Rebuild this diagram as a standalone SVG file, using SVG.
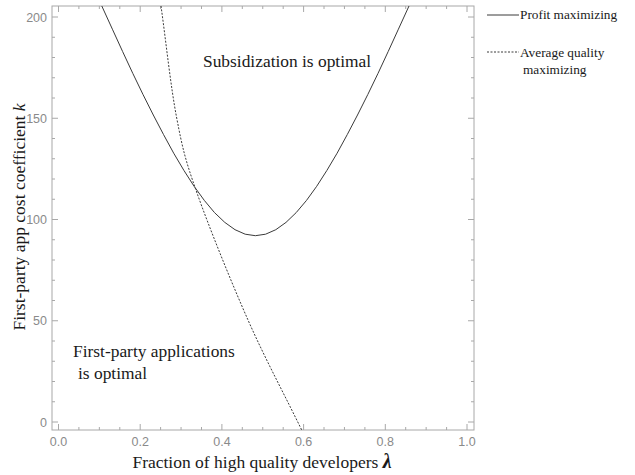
<svg xmlns="http://www.w3.org/2000/svg" width="635" height="475" viewBox="0 0 635 475">
<style>
.frame{fill:none;stroke:#a8a8a8;stroke-width:1}
.tick{fill:none;stroke:#a8a8a8;stroke-width:1}
.tl{font-family:"Liberation Sans",Arial,sans-serif;font-size:12.5px;fill:#8a8a8a}
.ax{font-family:"Liberation Serif","Times New Roman",serif;font-size:17.5px;fill:#1a1a1a}
.lab{font-family:"Liberation Serif","Times New Roman",serif;font-size:17.4px;fill:#1a1a1a}
.leg{font-family:"Liberation Serif","Times New Roman",serif;font-size:13.3px;fill:#1a1a1a}
.solid{fill:none;stroke:#3a3a3a;stroke-width:1}
.dash{fill:none;stroke:#3a3a3a;stroke-width:1;stroke-dasharray:2 1.5}
</style>
<defs><clipPath id="plot"><rect x="52" y="6" width="422" height="424"/></clipPath></defs>
<rect width="635" height="475" fill="#ffffff"/>
<g id="axes">
<rect class="frame" x="52" y="6" width="422" height="424"/>
<path class="tick" d="M58.5 430v-6M78.9 430v-3M99.35 430v-3M119.8 430v-3M140.2 430v-6M160.6 430v-3M181.05 430v-3M201.5 430v-3M221.9 430v-6M242.3 430v-3M262.75 430v-3M283.2 430v-3M303.6 430v-6M324 430v-3M344.45 430v-3M364.9 430v-3M385.3 430v-6M405.7 430v-3M426.15 430v-3M446.6 430v-3M467 430v-6
M58.5 6v6M78.9 6v3M99.35 6v3M119.8 6v3M140.2 6v6M160.6 6v3M181.05 6v3M201.5 6v3M221.9 6v6M242.3 6v3M262.75 6v3M283.2 6v3M303.6 6v6M324 6v3M344.45 6v3M364.9 6v3M385.3 6v6M405.7 6v3M426.15 6v3M446.6 6v3M467 6v6
M52 422h6M52 401.75h3M52 381.5h3M52 361.25h3M52 341h3M52 320.75h6M52 300.5h3M52 280.25h3M52 260h3M52 239.75h3M52 219.5h6M52 199.25h3M52 179h3M52 158.75h3M52 138.5h3M52 118.25h6M52 98h3M52 77.75h3M52 57.5h3M52 37.25h3M52 17h6
M474 422h-6M474 401.75h-3M474 381.5h-3M474 361.25h-3M474 341h-3M474 320.75h-6M474 300.5h-3M474 280.25h-3M474 260h-3M474 239.75h-3M474 219.5h-6M474 199.25h-3M474 179h-3M474 158.75h-3M474 138.5h-3M474 118.25h-6M474 98h-3M474 77.75h-3M474 57.5h-3M474 37.25h-3M474 17h-6"/>
<g class="tl" text-anchor="middle">
<text x="58.5" y="446">0.0</text><text x="140.2" y="446">0.2</text><text x="221.9" y="446">0.4</text><text x="303.6" y="446">0.6</text><text x="385.3" y="446">0.8</text><text x="467" y="446">1.0</text>
</g>
<g class="tl" text-anchor="end">
<text x="47" y="426.5">0</text><text x="47" y="325">50</text><text x="47" y="224">100</text><text x="47" y="122.5">150</text><text x="47" y="21.5">200</text>
</g>
<text class="ax" transform="translate(25 217) rotate(-90)" text-anchor="middle">First-party app cost coefficient <tspan font-style="italic">k</tspan></text>
<text class="ax" x="262" y="468" text-anchor="middle">Fraction of high quality developers  <tspan font-style="italic" font-weight="bold" font-size="20px">λ</tspan></text>
</g>
<g id="curves" clip-path="url(#plot)">
<path id="profit" class="solid" d="M101.8 6L112.4 29.2L122.6 51.5L132.8 73.4L143 94.5L153.3 115L163.5 134.5L173.7 153.2L183.9 170.4L194.1 186.3L204.3 200.4L214.5 212.6L224.8 222.4L235 229.7L245.2 234.2L255.4 235.7L265.6 234.2L275.8 229.7L286 222.4L296.2 212.6L306.5 200.4L316.7 186.3L326.9 170.4L337.1 153.2L347.3 134.5L357.5 115L367.8 94.5L378 73.4L388.2 51.5L398.4 29.2L409 6"/>
<path id="avgq" class="dash" d="M161 6C166.2 43.3 170.7 86.8 176.7 118C182.7 149.2 185.1 159.3 197 193C208.9 226.7 230.55 280.5 248 320C265.45 359.5 283.8 393.3 301.7 430"/>
</g>
<g id="region-labels">
<text class="lab" x="203" y="67">Subsidization is optimal</text>
<text class="lab" x="73" y="357">First-party applications</text>
<text class="lab" x="78" y="379">is optimal</text>
</g>
<g id="legend">
<line class="solid" x1="487" y1="15" x2="519" y2="15"/>
<text class="leg" x="520" y="19">Profit maximizing</text>
<line class="dash" x1="487" y1="52" x2="519" y2="52" stroke-dasharray="1.5 1.5"/>
<text class="leg" x="520" y="57">Average quality</text>
<text class="leg" x="523" y="74">maximizing</text>
</g>
</svg>
